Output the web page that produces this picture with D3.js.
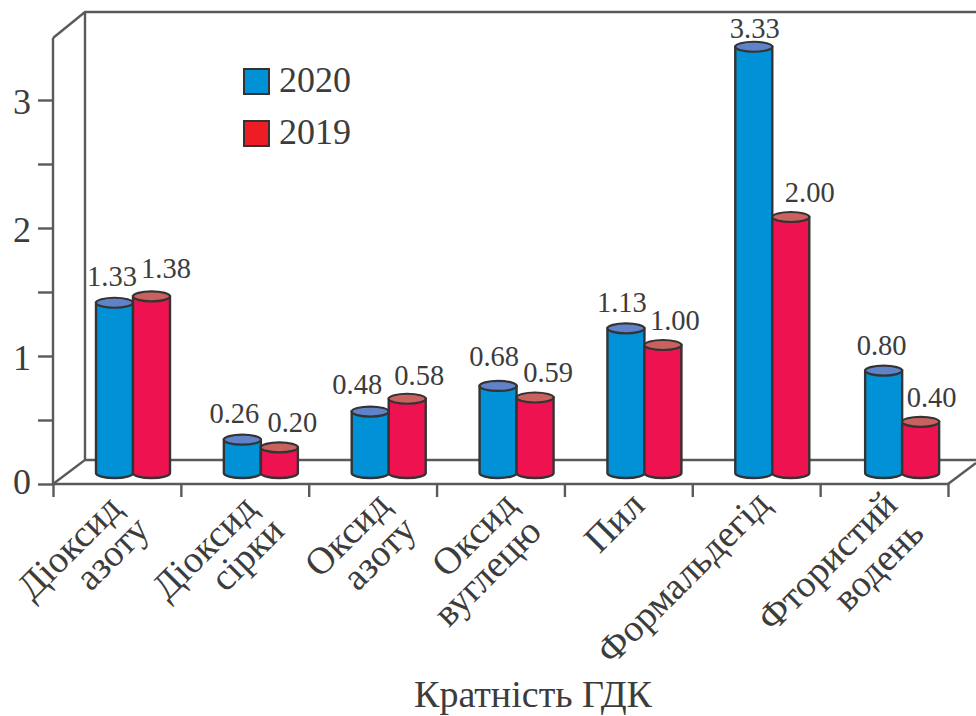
<!DOCTYPE html>
<html>
<head>
<meta charset="utf-8">
<script src="https://d3js.org/d3.v7.min.js"></script>
<style>
html,body{margin:0;padding:0;background:#fff;}
svg{display:block;}
text{font-family:"Liberation Serif",serif;fill:#3c3c3c;}
</style>
</head>
<body>
<svg id="chart" width="976" height="716"></svg>
<script>
// Air pollutant concentrations, in multiples of the permissible limit
const categories = [
  ["Діоксид", "азоту"],
  ["Діоксид", "сірки"],
  ["Оксид", "азоту"],
  ["Оксид", "вуглецю"],
  ["Пил"],
  ["Формальдегід"],
  ["Фтористий", "водень"]
];
const seriesNames = ["2020", "2019"];
const values2020 = [1.33, 0.26, 0.48, 0.68, 1.13, 3.33, 0.80];
const values2019 = [1.38, 0.20, 0.58, 0.59, 1.00, 2.00, 0.40];
const valueTicks = [0, 0.5, 1, 1.5, 2, 2.5, 3];
const tickLabels = [0, 1, 2, 3];
const axisTitle = "Кратність ГДК";

const bodyColors = {"2020": "#0091d7", "2019": "#ee1350"};
const capColors = {"2020": "#6082c9", "2019": "#c9625f"};
const legendColors = {"2020": "#0091d7", "2019": "#ee1c25"};
const inkColor = "#333";
const axisColor = "#5a5a5a";

const svg = d3.select("#chart");

// Front plane of the box and the depth offset of its back wall
const frontLeft = 53, frontRight = 948, frontBase = 484, frontTop = 38;
const depthX = 32, depthY = 24;
const backBase = frontBase - depthY, backTop = frontTop - 26;

const y = d3.scaleLinear().domain([0, 3]).range([frontBase, 100]);
const xEdges = d3.scaleLinear().domain([0, categories.length]).range([frontLeft, frontRight]);
const xBand = d3.scaleBand().domain(d3.range(categories.length)).range([frontLeft, frontRight]);
const xSeries = d3.scaleBand().domain(seriesNames).range([0, 74]);

// Wall and floor outlines
const frame = svg.append("g").attr("fill", "none").attr("stroke", axisColor).attr("stroke-width", 2.4);
frame.append("path").attr("d", d3.line()([[976, backTop], [frontLeft + depthX, backTop], [frontLeft, frontTop]]));
frame.append("path").attr("d", d3.line()([[frontLeft + depthX, backTop], [frontLeft + depthX, backBase], [frontLeft, frontBase]]));
frame.append("path").attr("d", d3.line()([[frontLeft + depthX, backBase], [976, backBase]]));
frame.append("path").attr("d", d3.line()([[frontRight, frontBase], [976, frontBase - 21]]));

// Value axis on the front plane
const yAxis = svg.append("g")
  .attr("transform", `translate(${frontLeft},0)`)
  .call(d3.axisLeft(y).tickValues(valueTicks).tickSize(15).tickFormat(""));
yAxis.select(".domain").attr("d", d3.line()([[0, frontTop], [0, frontBase]]));
yAxis.selectAll("path,line").attr("stroke", axisColor).attr("stroke-width", 2.4);

svg.append("g").selectAll("text").data(tickLabels).join("text")
  .attr("x", 22).attr("y", d => y(d) + (d === 0 ? 10 : 14))
  .attr("text-anchor", "middle").attr("font-size", 36)
  .text(d => d);

// Category axis ticks mark the band edges
const xAxis = svg.append("g")
  .attr("transform", `translate(0,${frontBase})`)
  .call(d3.axisBottom(xEdges).tickValues(d3.range(categories.length + 1)).tickSize(13).tickFormat(""));
xAxis.selectAll("path,line").attr("stroke", axisColor).attr("stroke-width", 2.4);
xAxis.select(".domain").attr("d", d3.line()([[frontLeft, 0], [frontRight, 0]]));

// Cylinders: the 2020 series is drawn first so the 2019 one sits against it
const barBase = y(0) - 11, capRy = 5;
const barHeight = d => frontBase - y(d);
const rows = categories.map((c, i) => ({i, v: {"2020": values2020[i], "2019": values2019[i]}}));
const groupNudge = [0, 0, 0, 0, 0, 0, 2];
const barX = (i, s) => xBand(i) + 43 + groupNudge[i] + xSeries(s);

// Value labels sit off-centre over their cylinders so neighbours stay apart
const labelShift = {
  "2020": [[-2.5,-17],[-8,-17],[-13,-18],[-4,-20],[-4,-16],[1,-9],[-2,-16]],
  "2019": [[14.5,-18],[13,-15],[12,-14],[13,-15],[12,-15],[19,-15],[11,-15]]
};

seriesNames.forEach(s => {
  const w = xSeries.bandwidth();
  const top = d => barBase - barHeight(d.v[s]);
  const g = svg.append("g").selectAll("g").data(rows).join("g")
    .attr("transform", d => `translate(${barX(d.i, s)},0)`);
  g.append("path")
    .attr("d", d => `M0,${top(d)}V${barBase}A${w/2},${capRy} 0 0 0 ${w},${barBase}V${top(d)}Z`)
    .attr("fill", bodyColors[s]).attr("stroke", inkColor).attr("stroke-width", 2.4);
  g.append("ellipse")
    .attr("cx", w / 2).attr("cy", top)
    .attr("rx", w / 2).attr("ry", capRy)
    .attr("fill", capColors[s]).attr("stroke", inkColor).attr("stroke-width", 2.2);
  g.append("text")
    .attr("x", d => w / 2 + labelShift[s][d.i][0])
    .attr("y", d => top(d) + labelShift[s][d.i][1])
    .attr("text-anchor", "middle").attr("font-size", 28.5)
    .text(d => d.v[s].toFixed(2));
});

// Legend
const legend = svg.append("g").selectAll("g").data(seriesNames).join("g")
  .attr("transform", (d, i) => `translate(244,${69 + i * 52})`);
legend.append("rect").attr("width", 25).attr("height", 25)
  .attr("fill", d => legendColors[d]).attr("stroke", inkColor).attr("stroke-width", 2);
legend.append("text").attr("x", 35).attr("y", 23).attr("font-size", 36).text(d => d);

// Slanted category labels, one anchor per text line at the line's middle
const labelAnchors = [
  [[78, 556], [121, 562]],
  [[213, 556], [256, 563]],
  [[356, 543], [388, 562]],
  [[483, 543], [496, 581]],
  [[623, 531]],
  [[692, 586]],
  [[836, 570], [887, 574]]
];
const catLabels = svg.append("g").selectAll("g").data(categories).join("g");
catLabels.selectAll("text")
  .data((d, i) => d.map((line, j) => ({line, at: labelAnchors[i][j]})))
  .join("text")
  .attr("transform", d => `translate(${d.at[0]},${d.at[1]}) rotate(-45)`)
  .attr("text-anchor", "middle").attr("font-size", 38)
  .text(d => d.line);

svg.append("text")
  .attr("x", 533).attr("y", 707).attr("text-anchor", "middle").attr("font-size", 38)
  .text(axisTitle);
</script>
</body>
</html>
